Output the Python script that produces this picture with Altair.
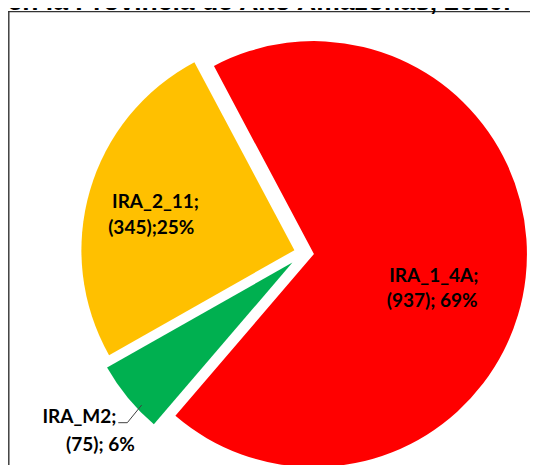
import math
import altair as alt
import pandas as pd

# ---- data ----
categories = ["IRA_1_4A", "IRA_M2", "IRA_2_11"]
counts = [937, 75, 345]
label_line1 = ["IRA_1_4A;", "IRA_M2;", "IRA_2_11;"]
label_line2 = ["(937); 69%", "(75); 6%", "(345);25%"]
title_text = "en la Provincia de Alto Amazonas, 2020."

# ---- styling / layout ----
slice_colors = ["#FF0000", "#00B050", "#FFC000"]
W, H = 522, 457
CX, CY = 296.0, 245.0
R = 213
START = math.radians(-28)
explode = {"IRA_1_4A": 10, "IRA_M2": 15, "IRA_2_11": 10}
# per slice: label radius, (dx, dy) line 1, (dx, dy) line 2
label_layout = {
    "IRA_1_4A": (130, (0.6, 14.5), (-1.0, 39.5)),
    "IRA_M2": (280, (-8.4, -7.7), (12.6, 19.7)),
    "IRA_2_11": (150, (-4.5, -2.8), (-8.7, 22.9)),
}
FONT = "Lato"
total = sum(counts)

df = pd.DataFrame({
    "cat": categories,
    "count": counts,
    "order": list(range(len(categories))),
    "line1": label_line1,
    "line2": label_line2,
})

ex_expr = " : ".join(
    [f"datum.cat == '{k}' ? {v}" for k, v in explode.items()]
) + " : 0"

theta_scale = alt.Scale(domain=[0, total], range=[START, START + 2 * math.pi])

base = (
    alt.Chart(df)
    .transform_window(cum="sum(count)", sort=[alt.SortField("order")], frame=[None, 0])
    .transform_calculate(
        start="datum.cum - datum.count",
        end="datum.cum",
        mid="datum.cum - datum.count / 2",
        ang=f"{START} + 2 * PI * (datum.cum - datum.count / 2) / {total}",
        ex=ex_expr,
    )
    .transform_calculate(
        px=f"{CX} + datum.ex * sin(datum.ang)",
        py=f"{CY} - datum.ex * cos(datum.ang)",
    )
)

arcs = base.mark_arc(outerRadius=R, strokeWidth=0).encode(
    theta=alt.Theta("start:Q", scale=theta_scale),
    theta2="end:Q",
    x=alt.X("px:Q", scale=None),
    y=alt.Y("py:Q", scale=None),
    color=alt.Color("cat:N", scale=alt.Scale(domain=categories, range=slice_colors), legend=None),
)

layers = [arcs]
for cat, (rad, (dx1, dy1), (dx2, dy2)) in label_layout.items():
    for field, dx, dy in (("line1", dx1, dy1), ("line2", dx2, dy2)):
        layers.append(
            base.transform_filter(f"datum.cat == '{cat}'")
            .mark_text(
                radius=rad, dx=dx, dy=dy, font=FONT, fontWeight="bold",
                fontSize=19, align="center", baseline="alphabetic", color="#000000",
            )
            .encode(
                theta=alt.Theta("mid:Q", scale=theta_scale),
                text=alt.Text(f"{field}:N"),
                x=alt.value(CX),
                y=alt.value(CY),
            )
        )

one = pd.DataFrame({"k": [0]})
leader1 = alt.Chart(one).mark_rule(color="#404040", strokeWidth=1).encode(
    x=alt.value(110.3), x2=alt.value(119.3), y=alt.value(414.7), y2=alt.value(414.7)
)
leader2 = alt.Chart(one).mark_rule(color="#404040", strokeWidth=1).encode(
    x=alt.value(119.3), x2=alt.value(133.7), y=alt.value(414.7), y2=alt.value(397)
)
border_top = alt.Chart(one).mark_rule(color="#333333", strokeWidth=1.4).encode(
    x=alt.value(0), x2=alt.value(W + 8), y=alt.value(3.6), y2=alt.value(3.6)
)
border_left = alt.Chart(one).mark_rule(color="#333333", strokeWidth=1.4).encode(
    x=alt.value(0.8), x2=alt.value(0.8), y=alt.value(3), y2=alt.value(H + 8)
)
title = alt.Chart(pd.DataFrame({"t": [title_text]})).mark_text(
    font="Liberation Sans", fontWeight="bold", fontSize=26.5, align="left",
    baseline="alphabetic", color="#000000",
).encode(text="t:N", x=alt.value(-0.5), y=alt.value(2))

chart = (
    alt.layer(*layers, leader1, leader2, border_top, border_left, title)
    .properties(width=W, height=H, padding=0, autosize=alt.AutoSizeParams(type="none"),
                background="#FFFFFF")
    .configure_view(strokeWidth=0)
)

chart.save("out.html", embed_options={"renderer": "svg", "actions": False})
